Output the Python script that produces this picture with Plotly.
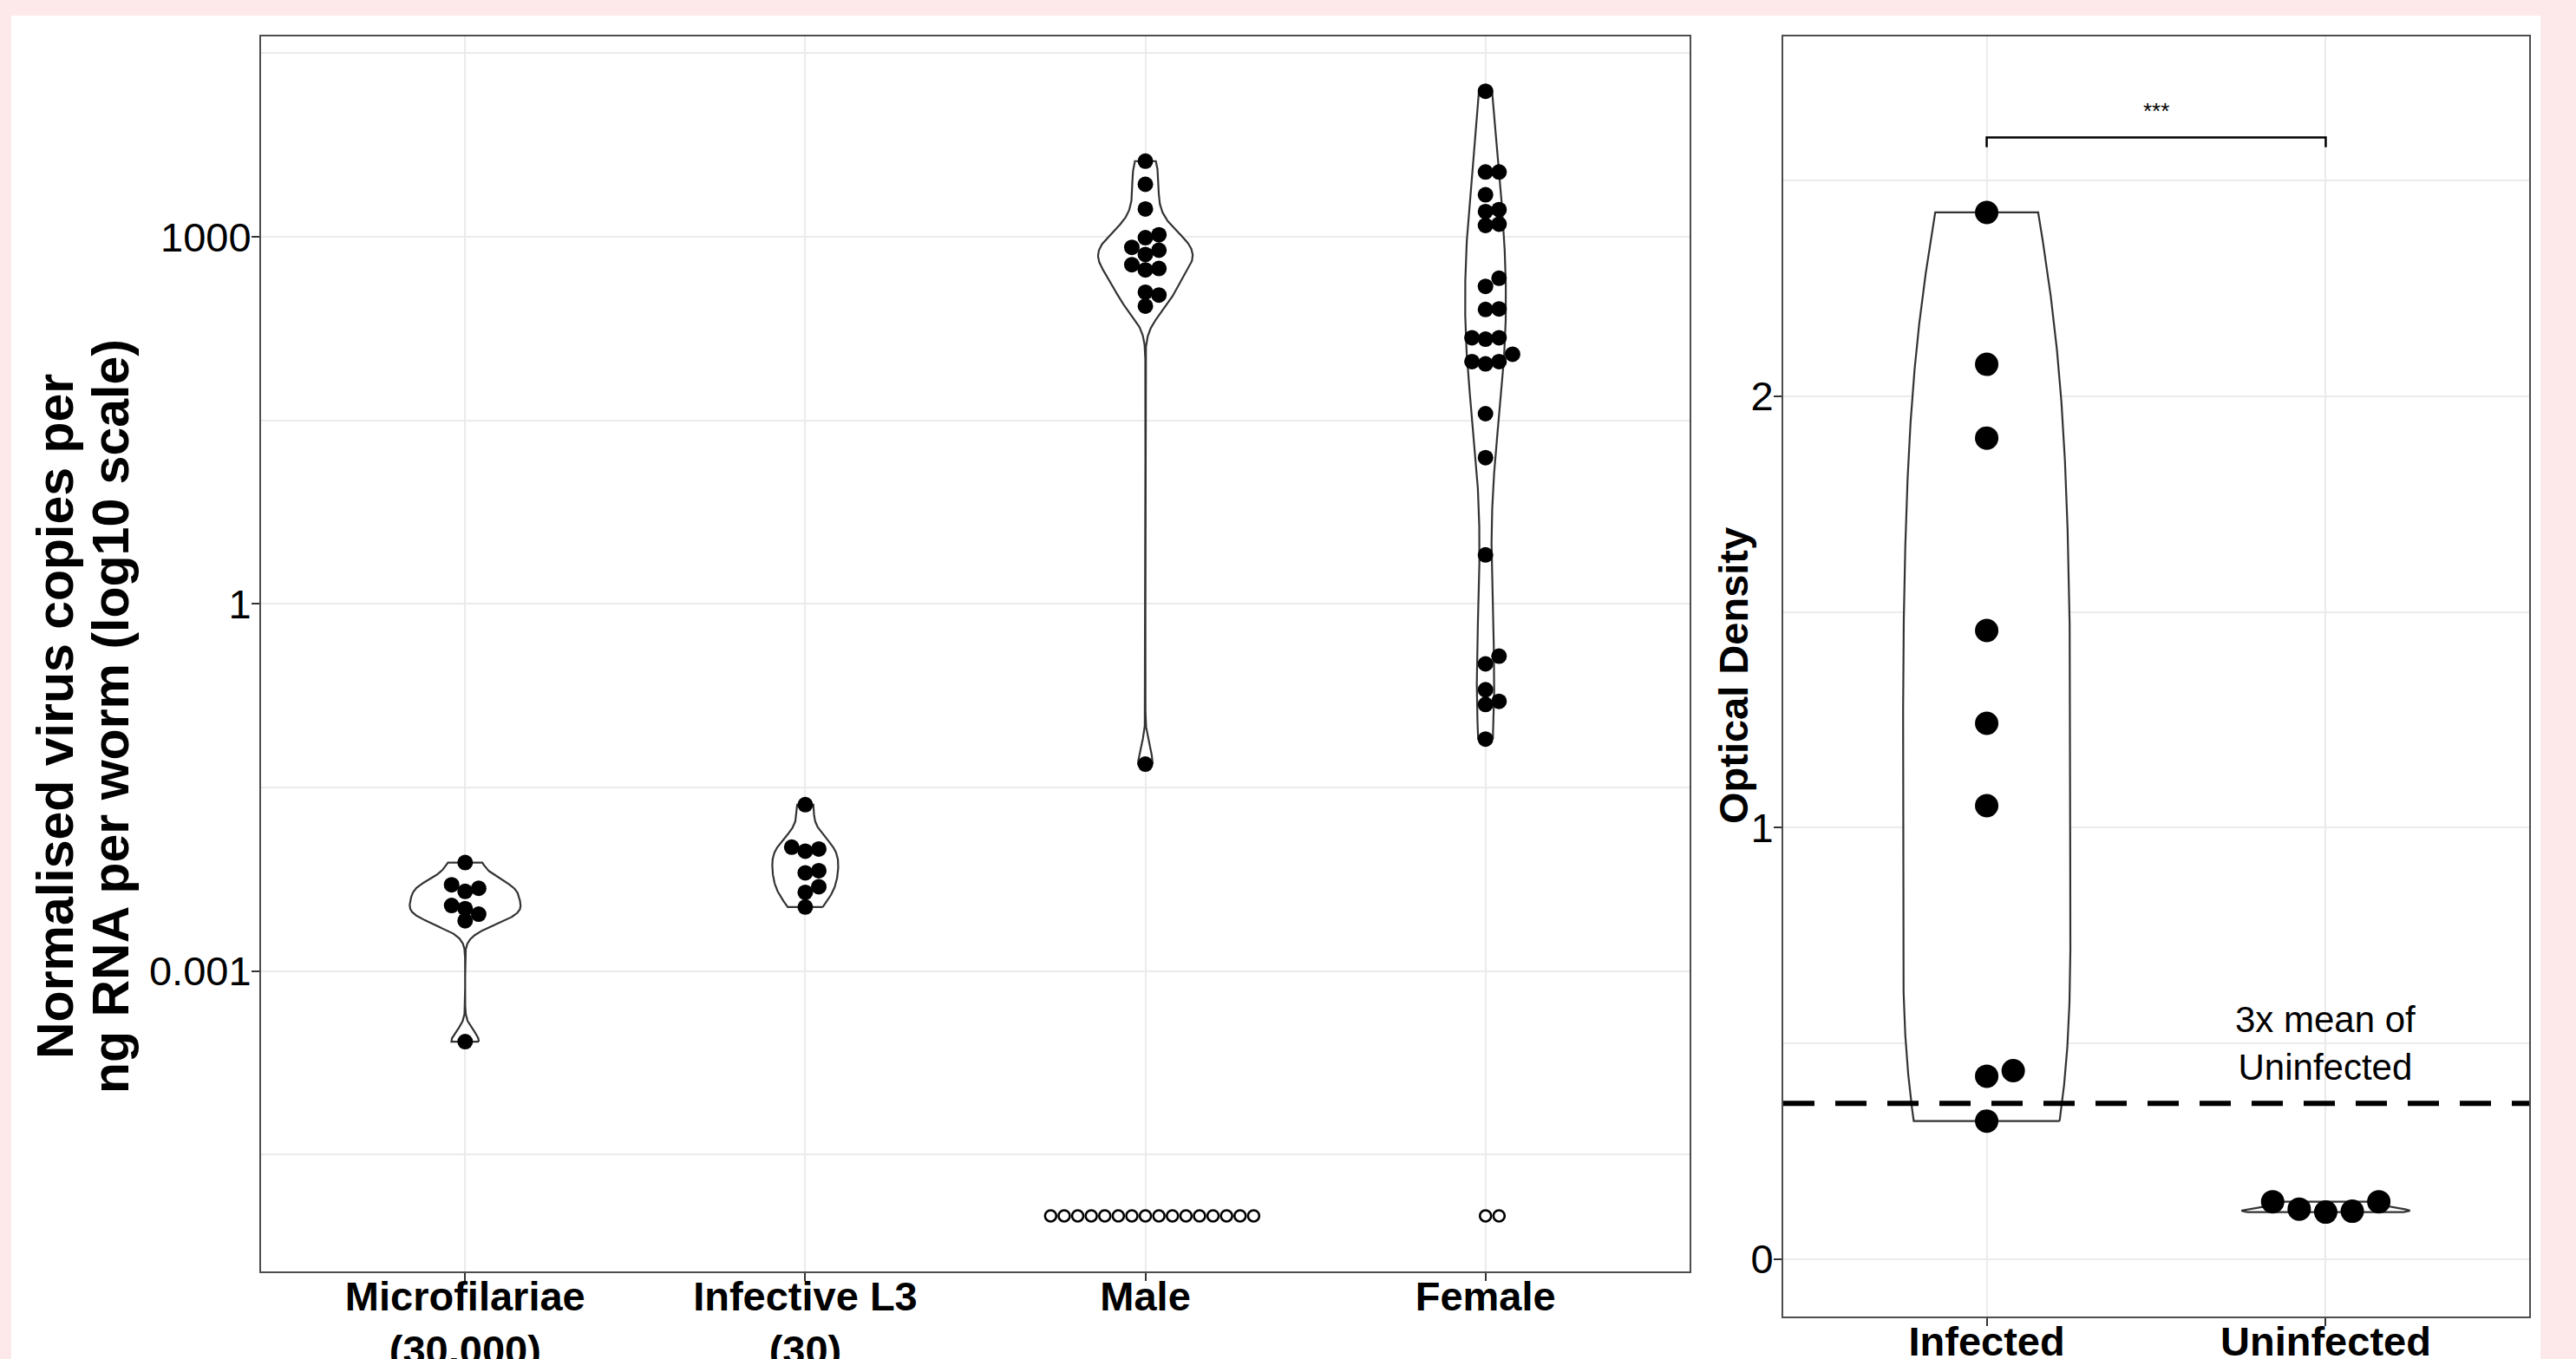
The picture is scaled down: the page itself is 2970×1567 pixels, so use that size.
import numpy as np
import plotly.graph_objects as go

# ---------------------------------------------------------------- data
# Left panel: normalised virus copies per ng RNA per worm (0 = not detected)
left_categories = ["Microfilariae<br>(30,000)", "Infective L3<br>(30)", "Male", "Female"]
microfilariae = [0.00771, 0.00508, 0.00475, 0.00448, 0.00344, 0.00324, 0.00292, 0.00258, 0.000265]
infective_l3 = [0.0229, 0.0103, 0.00995, 0.00955, 0.00662, 0.00635, 0.00489, 0.00440, 0.00334]
male = [4160, 2690, 1690, 1040, 984, 822, 778, 718, 593, 552, 537, 353, 335, 272, 0.0491,
        0, 0, 0, 0, 0, 0, 0, 0, 0, 0, 0, 0, 0, 0, 0, 0]
female = [15500, 3390, 3390, 2210, 1670, 1610, 1270, 1240, 459, 394, 258, 255, 150, 150, 146,
          110, 95.7, 95.7, 91.6, 35.9, 15.7, 2.52, 0.375, 0.324, 0.199, 0.160, 0.151, 0.0787,
          0, 0]
left_tickvals = [0.001, 1, 1000]
left_ticktext = ["0.001", "1", "1000"]
left_ytitle_lines = ["Normalised virus copies per", "ng RNA per worm (log10 scale)"]

# Right panel: optical density
right_categories = ["Infected", "Uninfected"]
infected = [2.426, 2.074, 1.903, 1.457, 1.242, 1.051, 0.437, 0.424, 0.320]
uninfected = [0.133, 0.116, 0.109, 0.111, 0.133]
right_tickvals = [0, 1, 2]
right_ticktext = ["0", "1", "2"]
right_ytitle = "Optical Density"
sig_label = "***"
sig_y = 2.6
cutoff_label = "3x mean of<br>Uninfected"

# ---------------------------------------------------------------- geometry / style
FIG_W, FIG_H = 2970, 1567
PINK = "#fde9ea"
FONT = "Liberation Sans, Arial, sans-serif"
GRID = "#ebebeb"
BORDER = "#4d4d4d"

L_X0, L_X1, L_Y0, L_Y1 = 301, 1948, 42, 1466      # left panel px (top, bottom)
R_X0, R_X1, R_Y0, R_Y1 = 2056, 2916, 42, 1518     # right panel px
L_XRANGE = [-0.6, 3.6]
L_YRANGE = [-5.454, 4.638]                        # log10
R_XRANGE = [-0.6, 1.6]
R_YRANGE = [-0.133, 2.834]
ZERO_POS = 1e-5                                   # where undetected (0) values are drawn

L_PXX = (L_X1 - L_X0) / (L_XRANGE[1] - L_XRANGE[0])
L_PXY = (L_Y1 - L_Y0) / (L_YRANGE[1] - L_YRANGE[0])
R_PXX = (R_X1 - R_X0) / (R_XRANGE[1] - R_XRANGE[0])
R_PXY = (R_Y1 - R_Y0) / (R_YRANGE[1] - R_YRANGE[0])

L_VIOLIN_HALF = [0.163, 0.097, 0.139, 0.060]
R_VIOLIN_HALF = [0.247, 0.247]
L_DOT, R_DOT = 18, 27
L_STEP, R_STEP = 15.6, 30.6


def nrd0(x):
    x = np.asarray(x, float)
    hi = np.std(x, ddof=1)
    q75, q25 = np.percentile(x, [75, 25])
    lo = min(hi, (q75 - q25) / 1.34)
    if lo <= 0:
        lo = hi if hi > 0 else 1.0
    return 0.9 * lo * len(x) ** -0.2


def violin_outline(t, maxhalf, n=512):
    t = np.asarray(t, float)
    bw = nrd0(t)
    g = np.linspace(t.min(), t.max(), n)
    d = np.exp(-0.5 * ((g[:, None] - t[None, :]) / bw) ** 2).sum(axis=1)
    half = d / d.max() * maxhalf
    xs = np.concatenate([half, -half[::-1], [half[0]]])
    ys = np.concatenate([g, g[::-1], [g[0]]])
    return xs, ys


def swarm(ypx, step, mind):
    ypx = np.asarray(ypx, float)
    order = np.argsort(ypx, kind="stable")
    cands = [0]
    for k in range(1, 30):
        cands += [k, -k]
    placed, offs = [], np.zeros(len(ypx))
    for i in order:
        for c in cands:
            xx = c * step
            if all((xx - px) ** 2 + (ypx[i] - py) ** 2 >= mind ** 2 for px, py in placed):
                break
        placed.append((xx, ypx[i]))
        offs[i] = c
    return offs


fig = go.Figure()

# ---------------------------------------------------------------- left panel
left_groups = [microfilariae, infective_l3, male, female]
for gi, vals in enumerate(left_groups):
    v = np.asarray(vals, float)
    pos = v[v > 0]
    zeros = int((v == 0).sum())
    lt = np.log10(pos)
    xs, ys = violin_outline(lt, L_VIOLIN_HALF[gi])
    fig.add_trace(go.Scatter(x=gi + xs, y=10 ** ys, mode="lines", fill="toself",
                             fillcolor="white", line=dict(color="#333333", width=2.2),
                             xaxis="x", yaxis="y", hoverinfo="skip", showlegend=False))
    offs = swarm(lt * L_PXY, L_STEP, 13.5)
    fig.add_trace(go.Scatter(x=gi + offs * L_STEP / L_PXX, y=pos, mode="markers",
                             marker=dict(color="black", size=L_DOT, line=dict(width=0)),
                             xaxis="x", yaxis="y", showlegend=False))
    if zeros:
        ks = np.arange(zeros) - (zeros - 1) // 2
        fig.add_trace(go.Scatter(x=gi + ks * L_STEP / L_PXX, y=[ZERO_POS] * zeros, mode="markers",
                                 marker=dict(color="white", size=13,
                                             line=dict(color="black", width=2.6)),
                                 xaxis="x", yaxis="y", showlegend=False))

# ---------------------------------------------------------------- right panel
right_groups = [infected, uninfected]
for gi, vals in enumerate(right_groups):
    v = np.asarray(vals, float)
    xs, ys = violin_outline(v, R_VIOLIN_HALF[gi])
    fig.add_trace(go.Scatter(x=gi + xs, y=ys, mode="lines", fill="toself",
                             fillcolor="white", line=dict(color="#333333", width=2.2),
                             xaxis="x2", yaxis="y2", hoverinfo="skip", showlegend=False))
    offs = swarm(v * R_PXY, R_STEP, 29)
    fig.add_trace(go.Scatter(x=gi + offs * R_STEP / R_PXX, y=v, mode="markers",
                             marker=dict(color="black", size=R_DOT, line=dict(width=0)),
                             xaxis="x2", yaxis="y2", showlegend=False))

cutoff = 3 * float(np.mean(uninfected))
tip = 0.023
fig.add_trace(go.Scatter(x=[0, 0, 1, 1], y=[sig_y - tip, sig_y, sig_y, sig_y - tip],
                         mode="lines", line=dict(color="black", width=2.5),
                         xaxis="x2", yaxis="y2", showlegend=False, cliponaxis=False))

# ---------------------------------------------------------------- layout


def dom_x(a, b):
    return [a / FIG_W, b / FIG_W]


def dom_y(top, bottom):
    return [1 - bottom / FIG_H, 1 - top / FIG_H]


axis_common = dict(showline=True, linecolor=BORDER, linewidth=2, mirror=True,
                   ticks="outside", ticklen=9, tickwidth=2, tickcolor="#333333",
                   showgrid=True, gridcolor=GRID, gridwidth=2, zeroline=False,
                   automargin=False)
XTICKFONT = dict(size=47, family=FONT, color="black", weight="bold")
YTICKFONT = dict(size=47, family=FONT, color="black")

fig.update_layout(
    width=FIG_W, height=FIG_H, autosize=False,
    margin=dict(l=0, r=0, t=0, b=0, pad=0),
    paper_bgcolor=PINK, plot_bgcolor="white",
    template="none",
    showlegend=False,
    font=dict(family=FONT, color="black"),
    xaxis=dict(domain=dom_x(L_X0, L_X1), range=L_XRANGE, anchor="y",
               tickmode="array", tickvals=list(range(len(left_categories))),
               ticktext=left_categories, tickfont=XTICKFONT, ticklabelstandoff=-22,
               **axis_common),
    yaxis=dict(domain=dom_y(L_Y0, L_Y1), type="log", range=L_YRANGE, anchor="x",
               tickmode="array", tickvals=left_tickvals, ticktext=left_ticktext,
               tickfont=YTICKFONT, ticklabelstandoff=-9,
               minor=dict(tickmode="array",
                          tickvals=[10 ** -4.5, 10 ** -1.5, 10 ** 1.5, 10 ** 4.5],
                          showgrid=True, gridcolor=GRID, gridwidth=2, ticks=""),
               **axis_common),
    xaxis2=dict(domain=dom_x(R_X0, R_X1), range=R_XRANGE, anchor="y2",
                tickmode="array", tickvals=list(range(len(right_categories))),
                ticktext=right_categories, tickfont=XTICKFONT, ticklabelstandoff=-22,
                **axis_common),
    yaxis2=dict(domain=dom_y(R_Y0, R_Y1), range=R_YRANGE, anchor="x2",
                tickmode="array", tickvals=right_tickvals, ticktext=right_ticktext,
                tickfont=YTICKFONT, ticklabelstandoff=-9,
                minor=dict(tickmode="array", tickvals=[0.5, 1.5, 2.5],
                           showgrid=True, gridcolor=GRID, gridwidth=2, ticks=""),
                **axis_common),
)

fig.add_shape(type="rect", xref="paper", yref="paper",
              x0=13 / FIG_W, x1=2929 / FIG_W, y0=-0.01, y1=1 - 18 / FIG_H,
              fillcolor="white", line=dict(width=0), layer="below")

fig.add_shape(type="line", xref="x2 domain", yref="y2", x0=0, x1=1, y0=cutoff, y1=cutoff,
              line=dict(color="black", width=6, dash="36px,24px"), layer="above")

for xpos, line in zip([64, 128], left_ytitle_lines):
    fig.add_annotation(x=xpos / FIG_W, y=1 - 826 / FIG_H, xref="paper", yref="paper",
                       text=line, textangle=-90, showarrow=False,
                       font=dict(size=59, family=FONT, color="black", weight="bold"),
                       xanchor="center", yanchor="middle")
fig.add_annotation(x=1998 / FIG_W, y=1 - 779 / FIG_H, xref="paper", yref="paper",
                   text=right_ytitle, textangle=-90, showarrow=False,
                   font=dict(size=47, family=FONT, color="black", weight="bold"),
                   xanchor="center", yanchor="middle")
fig.add_annotation(x=0.5, y=sig_y + 0.062, xref="x2", yref="y2", text=sig_label,
                   showarrow=False, font=dict(size=26, family=FONT, color="black"))
fig.add_annotation(x=1, y=0.50, xref="x2", yref="y2", text=cutoff_label,
                   showarrow=False, font=dict(size=42, family=FONT, color="black"))

fig.write_html(
    "out.html",
    config={"displayModeBar": False},
    post_script="document.documentElement.style.margin='0';"
                "document.body.style.margin='0';"
                "document.body.style.background='" + PINK + "';",
)
